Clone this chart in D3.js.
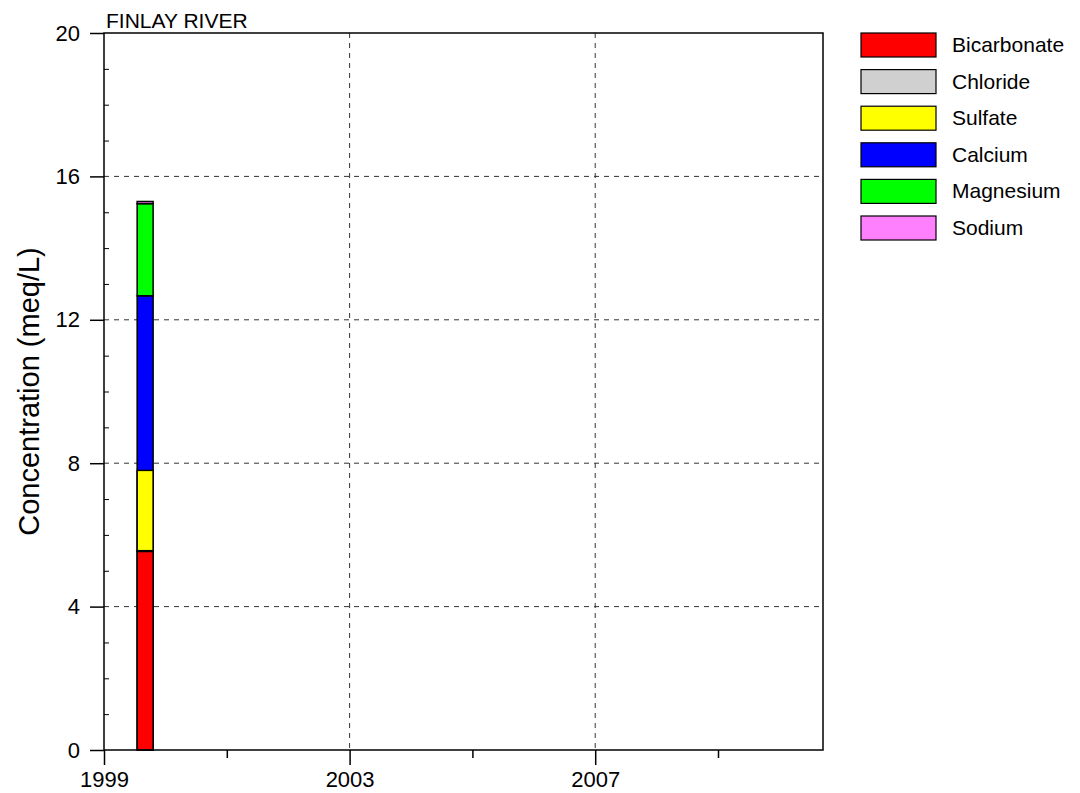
<!DOCTYPE html>
<html>
<head>
<meta charset="utf-8">
<script src="https://cdn.jsdelivr.net/npm/d3@7"></script>
<style>
  body { margin: 0; background: #fff; }
  text { font-family: Arial, "Liberation Sans", sans-serif; fill: #000; }
</style>
</head>
<body>
<svg id="chart" width="1080" height="793"></svg>
<script>
// ---- data ----
const sampleDates = [1999.67];
const anionNames = ["Bicarbonate", "Chloride", "Sulfate"];
const cationNames = ["Calcium", "Magnesium", "Sodium"];
const bicarbonate = [5.54];
const chloride = [0.02];
const sulfate = [2.24];
const calcium = [12.67];
const magnesium = [2.57];
const sodium = [0.06];
const legendNames = ["Bicarbonate", "Chloride", "Sulfate", "Calcium", "Magnesium", "Sodium"];
const legendColors = ["#ff0000", "#d0d0d0", "#ffff00", "#0000ff", "#00ff00", "#ff80ff"];
const yTicks = [0, 4, 8, 12, 16, 20];
const xMajorTicks = [1999, 2003, 2007];
const xMinorTicks = [2001, 2005, 2009];
const siteTitle = "FINLAY RIVER";
const yTitle = "Concentration (meq/L)";

const colorOf = {};
legendNames.forEach((n, i) => colorOf[n] = legendColors[i]);

const FONT = "Arial, 'Liberation Sans', sans-serif";
const svg = d3.select("#chart");
const m = { left: 104, top: 33, right: 823, bottom: 750 };

const x = d3.scaleLinear().domain([1999, 2010.71]).range([m.left, m.right]);
const y = d3.scaleLinear().domain([0, 20]).range([m.bottom, m.top]);

// gridlines
const grid = svg.append("g").attr("stroke", "#333").attr("stroke-width", 1).attr("stroke-dasharray", "5,5");
yTicks.filter(t => t > 0 && t < 20).forEach(t => {
  grid.append("line").attr("x1", m.left).attr("x2", m.right).attr("y1", y(t)).attr("y2", y(t));
});
xMajorTicks.filter(t => t > 1999).forEach(t => {
  grid.append("line").attr("y1", m.top).attr("y2", m.bottom).attr("x1", x(t)).attr("x2", x(t));
});

// bars
const barW = x(1999.26) - x(1999);
function stack(names, arrays) {
  const rows = [];
  sampleDates.forEach((d, i) => {
    let base = 0;
    names.forEach((n, k) => {
      const v = arrays[k][i];
      rows.push({ date: d, name: n, y0: base, y1: base + v });
      base += v;
    });
  });
  return rows;
}
const cationRows = stack(cationNames, [calcium, magnesium, sodium]);
const anionRows = stack(anionNames, [bicarbonate, chloride, sulfate]);

[cationRows, anionRows].forEach(rows => {
  svg.append("g").selectAll("rect").data(rows).join("rect")
    .attr("x", d => x(d.date) - barW / 2)
    .attr("width", barW)
    .attr("y", d => y(d.y1))
    .attr("height", d => y(d.y0) - y(d.y1))
    .attr("fill", d => colorOf[d.name])
    .attr("stroke", "#000")
    .attr("stroke-width", 1.5);
});

// axes frame
const axisG = svg.append("g").attr("stroke", "#000").attr("stroke-width", 1.5);
axisG.append("rect").attr("x", m.left).attr("y", m.top)
  .attr("width", m.right - m.left).attr("height", m.bottom - m.top).attr("fill", "none");

// y axis with d3
const yAxis = d3.axisLeft(y).tickValues(yTicks).tickSize(14).tickPadding(10).tickFormat(d3.format("d"));
const yg = svg.append("g").attr("transform", `translate(${m.left},0)`).call(yAxis);
yg.select(".domain").remove();
yg.selectAll("line").attr("stroke-width", 1.5);
yg.selectAll("text").style("font-size", "22px").style("font-family", FONT);

// y minor ticks (inside)
const yMinor = d3.range(1, 20).filter(v => v % 4 !== 0);
const yMinorAxis = d3.axisRight(y).tickValues(yMinor).tickSize(5).tickFormat("");
const ymg = svg.append("g").attr("transform", `translate(${m.left},0)`).call(yMinorAxis);
ymg.select(".domain").remove();

// x axis
const xAxis = d3.axisBottom(x).tickValues(xMajorTicks).tickSize(15).tickPadding(6).tickFormat(d3.format("d"));
const xg = svg.append("g").attr("transform", `translate(0,${m.bottom})`).call(xAxis);
xg.select(".domain").remove();
xg.selectAll("line").attr("stroke-width", 1.5);
xg.selectAll("text").style("font-size", "22px").style("font-family", FONT);

const xMinorAxis = d3.axisBottom(x).tickValues(xMinorTicks).tickSize(8).tickFormat("");
const xmg = svg.append("g").attr("transform", `translate(0,${m.bottom})`).call(xMinorAxis);
xmg.select(".domain").remove();
xmg.selectAll("line").attr("stroke-width", 1.5);

// title
svg.append("text").attr("x", 106).attr("y", 28).style("font-size", "21px").text(siteTitle);

// y axis title
svg.append("text")
  .attr("transform", `translate(39,${(m.top + m.bottom) / 2}) rotate(-90)`)
  .attr("text-anchor", "middle")
  .style("font-size", "29px")
  .text(yTitle);

// legend
const lg = svg.append("g");
legendNames.forEach((n, i) => {
  const yy = 33 + i * 36.6;
  lg.append("rect").attr("x", 861).attr("y", yy).attr("width", 75).attr("height", 24)
    .attr("fill", legendColors[i]).attr("stroke", "#000").attr("stroke-width", 1.2);
  lg.append("text").attr("x", 952).attr("y", yy + 19).style("font-size", "21px").text(n);
});
</script>
</body>
</html>
